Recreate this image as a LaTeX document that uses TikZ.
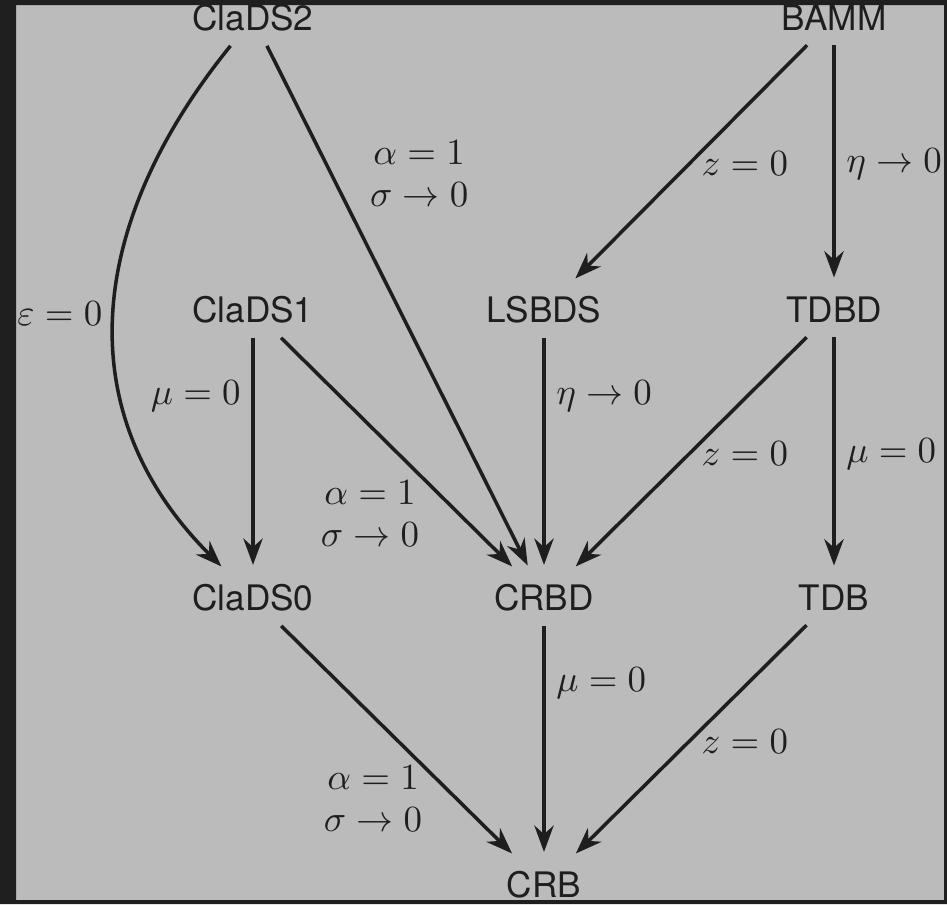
\RequirePackage{fix-cm}
\documentclass[tikz,border=0pt]{standalone}
\usepackage{amsmath}
\usepackage{graphicx}
\usepackage{fontspec}
\setsansfont{TeX Gyre Heros}
\definecolor{DIAGframe}{HTML}{1F1F1F}
\definecolor{DIAGback}{HTML}{BBBBBB}
\definecolor{DIAGink}{HTML}{1E1E1E}
\usetikzlibrary{arrows.meta}
% condition labels: 10pt math blown up
\newcommand{\cond}[1]{\scalebox{2.1}{$#1$}}
\newcommand{\condtwo}[2]{\scalebox{2.1}{\renewcommand{\arraystretch}{0.95}%
   \begin{tabular}{@{}c@{}}$#1$\\$#2$\end{tabular}}}

\begin{document}
\begin{tikzpicture}[x=0.02cm, y=0.02cm,
      model/.style={font=\fontsize{20}{24}\sffamily, text=DIAGink, inner sep=8pt},
      limit/.style={-{Stealth[length=15pt, width=11pt]}, DIAGink, line width=2pt, shorten >=3pt},
      cond/.style={text=DIAGink, inner sep=6pt}]
   \useasboundingbox (0,0) rectangle (947,-904);
   % Background
   \fill[DIAGback] (0,0) rectangle (947,-904);
   % Models
   \node[model] (clads2) at (253,-18) {ClaDS2};
   \node[model] (bamm) at (834,-18) {BAMM};
   \node[model] (clads1) at (253,-310) {ClaDS1};
   \node[model] (lsbds) at (544,-310) {LSBDS};
   \node[model] (tdbd) at (834,-310) {TDBD};
   \node[model] (clads0) at (253,-598) {ClaDS0};
   \node[model] (crbd) at (544,-598) {CRBD};
   \node[model] (tdb) at (834,-598) {TDB};
   \node[model] (crb) at (544,-885) {CRB};
   % From ClaDS2
   \draw[limit] (clads2) to[out=231, in=135, looseness=1.1]
      node[cond, midway, left] {\cond{\varepsilon=0}} (clads0);
   \draw[limit] (clads2) -- node[cond, pos=0.25, right=0.5cm] {\condtwo{\alpha=1}{\sigma\to0}} (crbd);
   % From BAMM
   \draw[limit] (bamm) -- node[cond, midway, right] {\cond{z=0}} (lsbds);
   \draw[limit] (bamm) -- node[cond, midway, right] {\cond{\eta\to0}} (tdbd);
   % Middle row
   \draw[limit] (clads1) -- node[cond, pos=0.25, left] {\cond{\mu=0}} (clads0);
   \draw[limit] (clads1) -- node[cond, pos=0.77, left=0.61cm] {\condtwo{\alpha=1}{\sigma\to0}} (crbd);
   \draw[limit] (lsbds) -- node[cond, pos=0.25, right] {\cond{\eta\to0}} (crbd);
   \draw[limit] (tdbd) -- node[cond, midway, right] {\cond{z=0}} (crbd);
   \draw[limit] (tdbd) -- node[cond, midway, right] {\cond{\mu=0}} (tdb);
   % Down to CRB
   \draw[limit] (clads0) -- node[cond, pos=0.76, left=0.5cm] {\condtwo{\alpha=1}{\sigma\to0}} (crb);
   \draw[limit] (crbd) -- node[cond, pos=0.25, right] {\cond{\mu=0}} (crb);
   \draw[limit] (tdb) -- node[cond, midway, right] {\cond{z=0}} (crb);
   % Frame
   \fill[DIAGframe, even odd rule] (0,0) rectangle (947,-904) (16,-5) rectangle (944,-900);
\end{tikzpicture}
\end{document}
